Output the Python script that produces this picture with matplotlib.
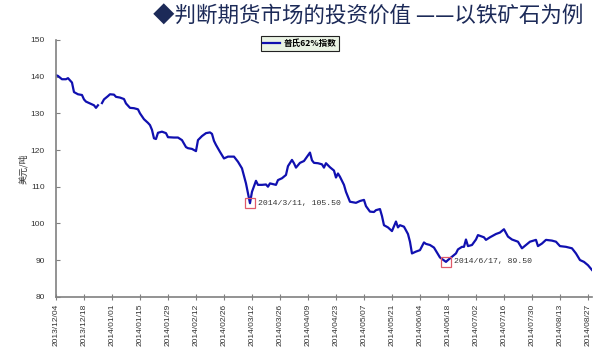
import matplotlib
matplotlib.use("Agg")
import matplotlib.pyplot as plt
import matplotlib.dates as mdates
from matplotlib.ticker import FixedLocator
import numpy as np
import pandas as pd

plt.rcParams["font.family"] = ["Noto Sans CJK SC", "DejaVu Sans"]

TITLE = "◆判断期货市场的投资价值 ——以铁矿石为例"
SERIES_NAME = "普氏62%指数"
Y_LABEL = "美元/吨"

DATES = [
    "2013-12-04", "2013-12-05", "2013-12-07", "2013-12-09", "2013-12-10", "2013-12-12",
    "2013-12-13", "2013-12-15", "2013-12-17", "2013-12-18", "2013-12-19", "2013-12-21",
    "2013-12-23", "2013-12-24", "2013-12-25", "2013-12-26", "2013-12-27", "2013-12-28",
    "2013-12-30", "2013-12-31", "2014-01-02", "2014-01-03", "2014-01-05", "2014-01-07",
    "2014-01-08", "2014-01-10", "2014-01-12", "2014-01-14", "2014-01-15", "2014-01-17",
    "2014-01-19", "2014-01-20", "2014-01-21", "2014-01-22", "2014-01-23", "2014-01-24",
    "2014-01-26", "2014-01-28", "2014-01-29", "2014-02-01", "2014-02-03", "2014-02-05",
    "2014-02-07", "2014-02-08", "2014-02-10", "2014-02-12", "2014-02-13", "2014-02-15",
    "2014-02-17", "2014-02-19", "2014-02-20", "2014-02-21", "2014-02-22", "2014-02-24",
    "2014-02-26", "2014-02-28", "2014-03-03", "2014-03-05", "2014-03-07", "2014-03-09",
    "2014-03-11", "2014-03-12", "2014-03-14", "2014-03-15", "2014-03-17", "2014-03-19",
    "2014-03-20", "2014-03-21", "2014-03-24", "2014-03-25", "2014-03-27", "2014-03-29",
    "2014-03-30", "2014-04-01", "2014-04-02", "2014-04-03", "2014-04-05", "2014-04-07",
    "2014-04-10", "2014-04-11", "2014-04-12", "2014-04-14", "2014-04-16", "2014-04-17",
    "2014-04-18", "2014-04-20", "2014-04-22", "2014-04-23", "2014-04-24", "2014-04-25",
    "2014-04-27", "2014-04-28", "2014-04-30", "2014-05-03", "2014-05-05", "2014-05-07",
    "2014-05-08", "2014-05-10", "2014-05-12", "2014-05-13", "2014-05-15", "2014-05-16",
    "2014-05-17", "2014-05-19", "2014-05-21", "2014-05-23", "2014-05-24", "2014-05-25",
    "2014-05-27", "2014-05-29", "2014-05-30", "2014-05-31", "2014-06-02", "2014-06-04",
    "2014-06-06", "2014-06-07", "2014-06-09", "2014-06-11", "2014-06-12", "2014-06-14",
    "2014-06-17", "2014-06-18", "2014-06-20", "2014-06-22", "2014-06-23", "2014-06-25",
    "2014-06-26", "2014-06-27", "2014-06-28", "2014-06-30", "2014-07-02", "2014-07-03",
    "2014-07-06", "2014-07-07", "2014-07-09", "2014-07-12", "2014-07-14", "2014-07-16",
    "2014-07-18", "2014-07-20", "2014-07-23", "2014-07-25", "2014-07-27", "2014-07-29",
    "2014-08-01", "2014-08-02", "2014-08-04", "2014-08-06", "2014-08-09", "2014-08-11",
    "2014-08-13", "2014-08-16", "2014-08-19", "2014-08-21", "2014-08-23", "2014-08-25",
    "2014-08-27", "2014-08-29",
]

PRICES = [
    140.4, 140.2, 139.3, 139.3, 139.6, 138.4,
    135.8, 135.2, 135.0, 133.8, 133.2, 132.7,
    132.2, 131.5, 132.2, np.nan, 132.8, 133.8,
    134.7, 135.2, 135.1, 134.5, 134.3, 133.9,
    132.7, 131.5, 131.4, 131.1, 130.0, 128.4,
    127.4, 126.8, 125.5, 123.2, 123.0, 124.7,
    125.0, 124.6, 123.5, 123.4, 123.4, 122.7,
    120.8, 120.5, 120.3, 119.7, 122.7, 123.8,
    124.6, 124.8, 124.4, 122.5, 121.4, 119.5,
    117.7, 118.2, 118.2, 116.8, 115.0, 110.9,
    105.5, 108.6, 111.6, 110.5, 110.5, 110.6,
    110.0, 110.9, 110.5, 111.8, 112.3, 113.2,
    115.6, 117.3, 116.4, 115.2, 116.5, 117.0,
    119.3, 117.2, 116.5, 116.4, 116.1, 115.2,
    116.4, 115.3, 114.4, 112.5, 113.6, 112.7,
    110.5, 108.6, 105.9, 105.6, 106.1, 106.4,
    104.7, 103.2, 103.1, 103.6, 103.9, 102.0,
    99.5, 98.9, 97.9, 100.5, 98.9, 99.5,
    99.1, 97.1, 95.0, 91.8, 92.3, 92.7,
    94.8, 94.4, 94.1, 93.4, 92.5, 90.7,
    89.5, 90.0, 90.9, 91.8, 92.9, 93.6,
    93.6, 95.6, 93.8, 94.1, 95.6, 96.8,
    96.2, 95.5, 96.2, 97.1, 97.5, 98.4,
    96.4, 95.6, 95.0, 93.2, 94.1, 95.0,
    95.5, 93.8, 94.5, 95.5, 95.3, 95.0,
    93.8, 93.6, 93.2, 91.8, 90.0, 89.5,
    88.6, 87.3,
]

MARK_DATES = ["2014-03-11", "2014-06-17"]
MARK_LABELS = ["2014/3/11, 105.50", "2014/6/17, 89.50"]

Y_TICKS = [80, 90, 100, 110, 120, 130, 140, 150]
X_START = "2013-12-04"
X_END = "2014-08-29"


def main() -> None:
    dates = pd.to_datetime(DATES)
    prices = pd.Series(PRICES, index=dates)

    fig = plt.figure(figsize=(6.0, 3.59), dpi=100)
    ax = fig.add_axes([0.0933, 0.1735, 0.8933, 0.7151])

    ax.plot(dates, prices.values, color="#1010b0", lw=1.6, label=SERIES_NAME)

    # low points marked like the Excel data labels
    for d, label in zip(MARK_DATES, MARK_LABELS):
        dt = pd.Timestamp(d)
        val = prices.loc[dt]
        ax.plot([dt], [val], marker="s", ms=7, mfc="none", mec="#e05a6a", mew=0.9)
        ax.annotate(label, xy=(dt, val), xytext=(6, 0), textcoords="offset points",
                    ha="left", va="center", fontsize=5.9, color="#333333",
                    family=["Liberation Mono", "DejaVu Sans Mono"])

    ax.set_ylim(80, 150)
    ax.set_yticks(Y_TICKS)
    ax.set_xlim(pd.Timestamp(X_START), pd.Timestamp(X_END))
    ticks = pd.date_range(X_START, X_END, freq="14D")
    ax.xaxis.set_major_locator(FixedLocator(mdates.date2num(ticks)))
    ax.xaxis.set_major_formatter(mdates.DateFormatter("%Y/%m/%d"))

    for side in ("top", "right"):
        ax.spines[side].set_visible(False)
    for side in ("left", "bottom"):
        ax.spines[side].set_color("#808080")
        ax.spines[side].set_linewidth(1.2)

    ax.tick_params(axis="x", direction="inout", length=4, width=0.8, color="#808080",
                   labelsize=6, labelcolor="#333333", labelrotation=90, pad=3)
    ax.tick_params(axis="y", direction="in", length=3, width=0.8, color="#808080",
                   labelsize=6, labelcolor="#333333", pad=8)
    for lbl in ax.get_xticklabels() + ax.get_yticklabels():
        lbl.set_family(["Liberation Sans", "DejaVu Sans"])

    ax.set_ylabel(Y_LABEL, fontsize=6.5, color="#333333", labelpad=2)

    leg = ax.legend(loc="center", bbox_to_anchor=(300 / 600, 1 - 43.5 / 359),
                    bbox_transform=fig.transFigure, frameon=True,
                    fancybox=False, handlelength=2.0, handletextpad=0.4,
                    borderpad=0.3, prop={"weight": "bold", "size": 6.2})
    leg.get_frame().set_edgecolor("#222222")
    leg.get_frame().set_linewidth(0.8)
    leg.get_frame().set_facecolor("#eaf3e4")
    leg.get_frame().set_alpha(1.0)

    fig.text(368 / 600, 1 - 17 / 359, TITLE, ha="center", va="center",
             fontsize=15.5, color="#1c2a58")

    fig.savefig("out.png", dpi=100)
    plt.close(fig)


if __name__ == "__main__":
    main()
